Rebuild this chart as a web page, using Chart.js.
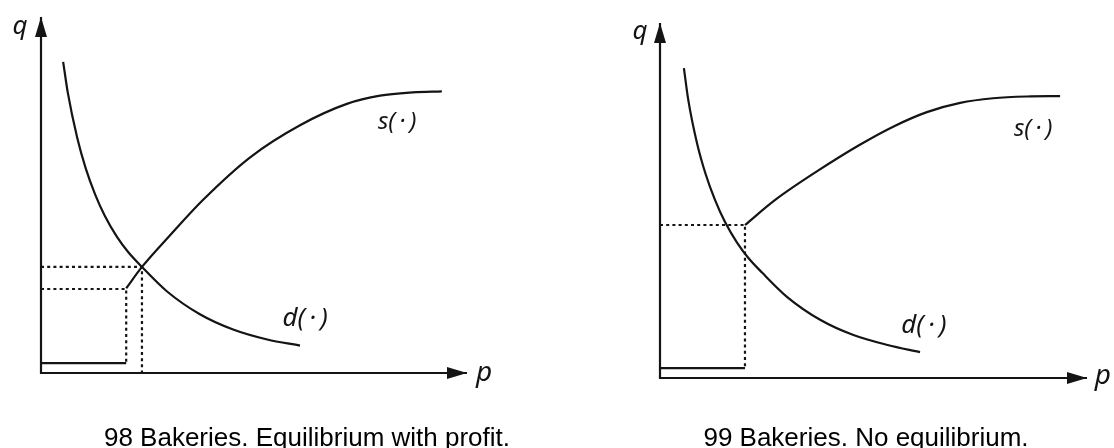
<!DOCTYPE html>
<html><head><meta charset="utf-8">
<script src="https://cdn.jsdelivr.net/npm/chart.js@4.4.1/dist/chart.umd.min.js"></script>
<style>
html,body{margin:0;padding:0;background:#fff;width:1114px;height:448px;overflow:hidden;position:relative;}
.panel{position:absolute;top:0;height:448px;width:557px;}
#pL{left:0}
#pR{left:557px}
.cap{position:absolute;font-family:"Liberation Sans",Arial,sans-serif;font-size:26px;line-height:26px;color:#000;white-space:nowrap;transform:translateX(-50%);top:424px;}
</style></head><body>
<div class="panel" id="pL"><canvas id="cL"></canvas></div>
<div class="panel" id="pR"><canvas id="cR"></canvas></div>
<div class="cap" style="left:307px">98 Bakeries. Equilibrium with profit.</div>
<div class="cap" style="left:866px">99 Bakeries. No equilibrium.</div>
<script>
// ---- Data (p = price, q = quantity, arbitrary units 0..100) ----
// Left panel: equilibrium with profit
const leftDemandP = [5.2, 6.3, 8.5, 10.5, 12.7, 15.0, 17.8, 20.5, 23.7, 29.6, 37.3, 45.1, 53.1, 60.8];
const leftDemandQ = [87.4, 78.7, 66.1, 57.5, 50.2, 44.1, 38.3, 33.9, 29.8, 22.9, 16.5, 12.2, 9.4, 7.7];
const leftSupplyP = [20.0, 23.7, 30.3, 38.0, 49.1, 60.8, 71.8, 79.6, 87.3, 94.1];
const leftSupplyQ = [23.8, 29.8, 38.7, 48.6, 60.6, 69.6, 75.6, 77.9, 78.8, 79.1];
const leftShutdownP = [0, 20.0];
const leftShutdownQ = [2.8, 2.8];
const leftEquilibrium = [23.7, 29.8];   // [p, q]
const leftMinSupply = [20.0, 23.6];     // [p, q]

// Right panel: no equilibrium
const rightDemandP = [5.6, 6.6, 8.7, 10.7, 12.9, 15.2, 18.0, 20.7, 23.9, 29.8, 37.5, 45.3, 53.3, 60.9];
const rightDemandQ = [87.3, 78.5, 66.0, 57.4, 50.1, 44.0, 38.2, 33.8, 29.7, 22.8, 16.4, 12.1, 9.3, 7.3];
const rightSupplyP = [19.9, 26.9, 37.0, 46.8, 54.6, 62.5, 70.3, 78.0, 85.9, 93.7];
const rightSupplyQ = [43.1, 50.1, 58.4, 65.7, 70.8, 74.9, 77.5, 78.8, 79.3, 79.4];
const rightShutdownP = [0, 19.9];
const rightShutdownQ = [2.8, 2.8];
const rightMinSupply = [19.9, 43.1];    // [p, q]

const axisEnd = 100;

// ---- helpers ----
const zip = (ps, qs) => ps.map((p, i) => ({x: p, y: qs[i]}));
const INK = '#141414';

function makeArrow() {
  const c = document.createElement('canvas');
  c.width = 12; c.height = 40;
  const g = c.getContext('2d');
  g.fillStyle = INK;
  g.beginPath();
  g.moveTo(6, 20); g.lineTo(12, 40); g.lineTo(0, 40); g.closePath();
  g.fill();
  return c;
}
const arrowImg = makeArrow();

const textPlugin = {
  id: 'textLabels',
  afterDatasetsDraw(chart, args, opts) {
    const {ctx, scales: {x, y}} = chart;
    ctx.save();
    ctx.fillStyle = INK;
    ctx.textAlign = 'center';
    ctx.textBaseline = 'alphabetic';
    for (const it of opts.items) {
      ctx.font = 'italic ' + it.size + 'px "Noto Sans", "DejaVu Sans", sans-serif';
      ctx.fillText(it.text, x.getPixelForValue(it.p), y.getPixelForValue(it.q));
    }
    ctx.restore();
  }
};

function curve(data) {
  return {data, showLine: true, pointRadius: 0, borderColor: INK, borderWidth: 2.2,
          cubicInterpolationMode: 'monotone', clip: false, fill: false};
}
function dotted(data) {
  return {data, showLine: true, pointRadius: 0, borderColor: INK, borderWidth: 2.2,
          borderDash: [3, 3.2], clip: false, fill: false, tension: 0};
}
function solid(data, w) {
  return {data, showLine: true, pointRadius: 0, borderColor: INK, borderWidth: w,
          clip: false, fill: false, tension: 0};
}

function build(canvasId, sets, padding, labels) {
  const datasets = [
    solid([{x: 0, y: axisEnd}, {x: 0, y: 0}, {x: axisEnd, y: 0}], 2.2),
    {data: [{x: 0, y: axisEnd}, {x: axisEnd, y: 0}], showLine: false,
     pointStyle: arrowImg, pointRadius: 5, pointRotation: [0, 90], clip: false},
    ...sets
  ];
  new Chart(document.getElementById(canvasId), {
    type: 'scatter',
    data: {datasets},
    options: {
      responsive: true, maintainAspectRatio: false, animation: false, events: [],
      layout: {padding},
      scales: {
        x: {type: 'linear', min: 0, max: axisEnd, display: false},
        y: {type: 'linear', min: 0, max: axisEnd, display: false}
      },
      plugins: {legend: {display: false}, tooltip: {enabled: false}, title: {display: false},
                textLabels: {items: labels}}
    },
    plugins: [textPlugin]
  });
}

const SLABEL = 's(\u2009·\u2009)';
const DLABEL = 'd(\u2009·\u2009)';

build('cL', [
  dotted([{x: 0, y: leftEquilibrium[1]}, {x: leftEquilibrium[0], y: leftEquilibrium[1]}, {x: leftEquilibrium[0], y: 0}]),
  dotted([{x: 0, y: leftMinSupply[1]}, {x: leftMinSupply[0], y: leftMinSupply[1]}, {x: leftMinSupply[0], y: leftShutdownQ[1]}]),
  solid(zip(leftShutdownP, leftShutdownQ), 2.2),
  curve(zip(leftDemandP, leftDemandQ)),
  curve(zip(leftSupplyP, leftSupplyQ))
], {left: 41, top: 17, right: 90, bottom: 75}, [
  {text: 'q', p: -4.9, q: 95.2, size: 26},
  {text: 'p', p: 104.0, q: -2.2, size: 28},
  {text: SLABEL, p: 83.6, q: 68.5, size: 24},
  {text: DLABEL, p: 62.0, q: 13.2, size: 26}
]);

build('cR', [
  dotted([{x: 0, y: rightMinSupply[1]}, {x: rightMinSupply[0], y: rightMinSupply[1]}, {x: rightMinSupply[0], y: rightShutdownQ[1]}]),
  solid(zip(rightShutdownP, rightShutdownQ), 2.2),
  curve(zip(rightDemandP, rightDemandQ)),
  curve(zip(rightSupplyP, rightSupplyQ))
], {left: 103, top: 23, right: 27, bottom: 70}, [
  {text: 'q', p: -4.7, q: 95.5, size: 26},
  {text: 'p', p: 103.7, q: -1.7, size: 28},
  {text: SLABEL, p: 87.4, q: 68.2, size: 24},
  {text: DLABEL, p: 61.8, q: 12.7, size: 26}
]);
</script>
</body></html>
